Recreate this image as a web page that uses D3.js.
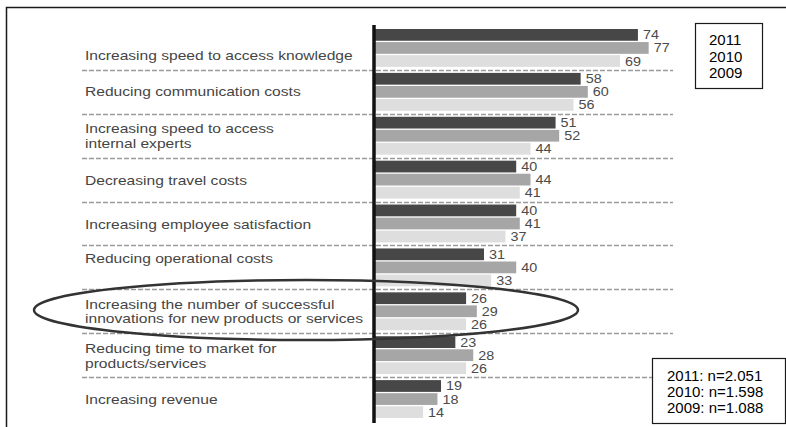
<!DOCTYPE html>
<html>
<head>
<meta charset="utf-8">
<script src="https://cdn.jsdelivr.net/npm/d3@7"></script>
<style>
  html, body { margin: 0; padding: 0; background: #fff; }
  svg { display: block; font-family: "Liberation Sans", Arial, sans-serif; }
</style>
</head>
<body>
<div class="chartBox"></div>
<script>
// categories top to bottom, two-line labels split with \n
var categories = [
  "Increasing speed to access knowledge",
  "Reducing communication costs",
  "Increasing speed to access\ninternal experts",
  "Decreasing travel costs",
  "Increasing employee satisfaction",
  "Reducing operational costs",
  "Increasing the number of successful\ninnovations for new products or services",
  "Reducing time to market for\nproducts/services",
  "Increasing revenue"
];
var years = ["2011", "2010", "2009"];
var values2011 = [74, 58, 51, 40, 40, 31, 26, 23, 19];
var values2010 = [77, 60, 52, 44, 41, 40, 29, 28, 18];
var values2009 = [69, 56, 44, 41, 37, 33, 26, 26, 14];
var sampleNotes = ["2011: n=2.051", "2010: n=1.598", "2009: n=1.088"];

var W = 786, H = 427;
var colors = { "2011": "#474747", "2010": "#a6a6a6", "2009": "#dedede" };
// the source nudges a couple of labels off the band centre
var labelShift = [8, 0, 0, 1, 1, -9, 0, 1, 0];

var svg = d3.select(".chartBox").append("svg")
  .attr("width", W)
  .attr("height", H);

// outer frame (open at bottom and right)
svg.append("path")
  .attr("d", "M6.5," + H + "V7.5H" + W)
  .attr("fill", "none")
  .attr("stroke", "#1a1a1a")
  .attr("stroke-width", 1.5);

var y = d3.scaleBand().domain(d3.range(categories.length)).range([26, 421]);
var yInner = d3.scaleBand().domain(years).range([3, y.bandwidth() - 3]).paddingInner(0.1);
var x = d3.scaleLinear().domain([0, 100]).range([373, 731]);

var rows = categories.map(function(c, i) {
  return { label: c, shift: labelShift[i], vals: [values2011[i], values2010[i], values2009[i]] };
});

// dashed separators between groups
var seps = svg.append("g");
d3.range(1, categories.length).forEach(function(i) {
  var yy = Math.round(y(i)) + 0.5;
  seps.append("line")
    .attr("x1", 82).attr("x2", 673).attr("y1", yy).attr("y2", yy)
    .attr("stroke", "#9a9a9a").attr("stroke-width", 1.5)
    .attr("stroke-dasharray", "5,2");
});

var group = svg.append("g").selectAll(".grp")
  .data(rows)
  .enter().append("g")
  .attr("class", "grp")
  .attr("transform", function(d, i) { return "translate(0," + y(i) + ")"; });

group.selectAll("rect")
  .data(function(d) { return d.vals.map(function(v, j) { return { year: years[j], v: v }; }); })
  .enter().append("rect")
  .attr("x", x(0))
  .attr("y", function(d) { return yInner(d.year); })
  .attr("width", function(d) { return x(d.v) - x(0); })
  .attr("height", yInner.bandwidth())
  .attr("fill", function(d) { return colors[d.year]; });

group.selectAll(".val")
  .data(function(d) { return d.vals.map(function(v, j) { return { year: years[j], v: v }; }); })
  .enter().append("text")
  .attr("class", "val")
  .attr("transform", function(d) {
    return "translate(" + (x(d.v) + 5) + "," + (yInner(d.year) + yInner.bandwidth() / 2) + ") scale(1.15,1)";
  })
  .attr("dy", "0.36em")
  .attr("font-size", 12.5)
  .attr("fill", "#4a4a4a")
  .text(function(d) { return d.v; });

// category labels, slightly stretched like the source image
group.each(function(d) {
  var lines = d.label.split("\n");
  var lh = 14.5;
  var cy = y.bandwidth() / 2 - (lines.length - 1) * lh / 2 + d.shift;
  var t = d3.select(this).append("text")
    .attr("transform", "translate(85," + cy + ") scale(1.2,1)")
    .attr("font-size", 13)
    .attr("fill", "#454545");
  lines.forEach(function(l, k) {
    t.append("tspan").attr("x", 0).attr("y", k * lh).attr("dy", "0.35em").text(l);
  });
});

// vertical axis
svg.append("line")
  .attr("x1", 374).attr("x2", 374).attr("y1", 25).attr("y2", 423)
  .attr("stroke", "#111").attr("stroke-width", 3.5);

// highlight ellipse
svg.append("ellipse")
  .attr("cx", 306).attr("cy", 310).attr("rx", 272).attr("ry", 30)
  .attr("fill", "none").attr("stroke", "#333").attr("stroke-width", 2.5);

// year legend box
svg.append("rect")
  .attr("x", 695.5).attr("y", 23.5).attr("width", 67).attr("height", 65)
  .attr("fill", "#fff").attr("stroke", "#1a1a1a").attr("stroke-width", 1.2);
svg.selectAll(".yr")
  .data(years)
  .enter().append("text")
  .attr("class", "yr")
  .attr("x", 709)
  .attr("y", function(d, i) { return 45 + i * 16.5; })
  .attr("font-size", 15)
  .attr("fill", "#000")
  .text(function(d) { return d; });

// sample size box
svg.append("rect")
  .attr("x", 652.5).attr("y", 358.5).attr("width", 133).attr("height", 65)
  .attr("fill", "#fff").attr("stroke", "#1a1a1a").attr("stroke-width", 1.2);
svg.selectAll(".note")
  .data(sampleNotes)
  .enter().append("text")
  .attr("class", "note")
  .attr("x", 667)
  .attr("y", function(d, i) { return 381 + i * 16; })
  .attr("font-size", 15)
  .attr("fill", "#000")
  .text(function(d) { return d; });
</script>
</body>
</html>
